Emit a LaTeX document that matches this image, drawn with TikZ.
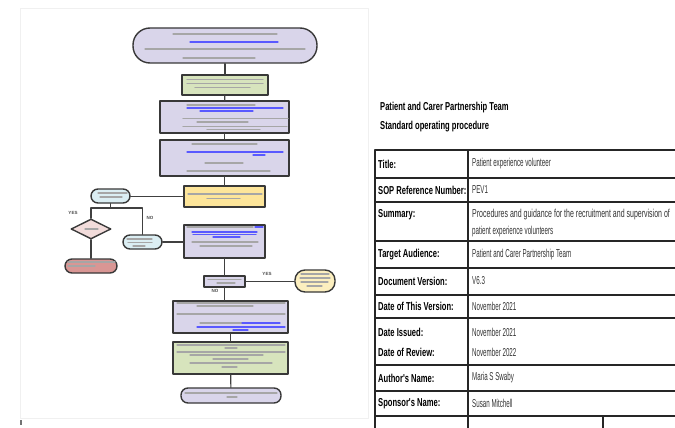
\documentclass[tikz,border=0pt]{standalone}
\usepackage{fontspec}
\setmainfont{Liberation Sans}
\newfontfamily\soplbl{Liberation Sans}[FakeStretch=0.66]
\newfontfamily\sopval{Liberation Sans}[FakeStretch=0.54]
\newfontfamily\sopwide{Liberation Sans}[FakeStretch=0.61]
\usepackage{xcolor}
\usepackage{tikz}
\usetikzlibrary{positioning,calc,shapes.geometric}

\definecolor{lavfill}{HTML}{D9D5EA}
\definecolor{greenfill}{HTML}{D7E4BD}
\definecolor{yellowfill}{HTML}{FDE59A}
\definecolor{bluefill}{HTML}{DBEEF3}
\definecolor{pinkfill}{HTML}{F2DCDB}
\definecolor{redfill}{HTML}{D99694}
\definecolor{creamfill}{HTML}{FCEFBF}

\begin{document}
\begin{tikzpicture}[
	x=1pt,y=-1pt,
	line cap=round,line join=round,
	flowline/.style={draw=black!75, line width=1.2pt},
	flowbox/.style={draw=black!78, line width=1.4pt, inner sep=0pt},
	lavbox/.style={flowbox, fill=lavfill},
	greenbox/.style={flowbox, fill=greenfill},
	yellowbox/.style={flowbox, fill=yellowfill},
	textline/.style={line width=1.1pt, black!35},
	linkline/.style={line width=1.1pt, blue!65},
	yesno/.style={font=\fontsize{4.5}{4.5}\selectfont\bfseries, text=black!70, inner sep=0pt},
	tablerule/.style={black!85, line width=1.6pt},
	lbl/.style={anchor=west, inner sep=0pt, font=\soplbl\bfseries\fontsize{11.5}{17}\selectfont},
	val/.style={anchor=west, inner sep=0pt, align=left, text=black!80, font=\sopval\fontsize{11.5}{17}\selectfont}
	]
	\useasboundingbox (0,0) rectangle (675,428);
	
	%----- page of the flowchart
	\draw[gray!12, line width=0.6pt] (20,8) rectangle (368,418);
	\fill[black!55] (19.5,420) rectangle (22,425);
	
	%----- flowchart boxes
	\node[lavbox, rounded corners=17pt, minimum width=184pt, minimum height=35pt] (start) at (225,45.5) {};
	\node[greenbox, minimum width=86pt, minimum height=20pt] (check) at (225,85) {};
	\node[lavbox, minimum width=129pt, minimum height=32pt] (apply) at (224.5,117) {};
	\node[lavbox, minimum width=129pt, minimum height=36pt] (interview) at (224.5,158) {};
	\node[yellowbox, minimum width=81pt, minimum height=21pt] (offer) at (224.5,196.5) {};
	\node[flowbox, fill=bluefill, rounded corners=7pt, minimum width=39pt, minimum height=14pt] (query) at (110.5,196) {};
	\node[flowbox, fill=pinkfill, diamond, aspect=2, minimum width=40pt, minimum height=20pt] (decide) at (91,229) {};
	\node[flowbox, fill=redfill, rounded corners=7pt, minimum width=52pt, minimum height=14pt] (stop) at (91,266) {};
	\node[flowbox, fill=bluefill, rounded corners=7pt, minimum width=39pt, minimum height=14pt] (accept) at (142.5,242) {};
	\node[lavbox, minimum width=81pt, minimum height=33pt] (checks) at (224.5,241.5) {};
	\node[lavbox, minimum width=41pt, minimum height=11pt] (issue) at (224.5,281.5) {};
	\node[flowbox, fill=creamfill, rounded corners=10pt, minimum width=40pt, minimum height=22pt] (refer) at (315,281) {};
	\node[lavbox, minimum width=115pt, minimum height=32pt] (induct) at (230.5,317) {};
	\node[greenbox, minimum width=115pt, minimum height=32pt] (placed) at (230.5,358) {};
	\node[lavbox, rounded corners=7pt, minimum width=100pt, minimum height=15pt] (review) at (231,395.5) {};
	
	%----- connectors
	\coordinate (split) at (110.5,208);
	\draw[flowline] (start) -- (check);
	\draw[flowline] (check) -- (apply);
	\draw[flowline] (apply) -- (interview);
	\draw[flowline] (interview) -- (offer);
	\draw[flowline] (offer.west) -- (query.east |- offer.west);
	\draw[flowline] (query) -- (split);
	\draw[flowline] (decide.north) |- (split) -| (accept.north);
	\draw[flowline] (decide) -- (stop);
	\draw[flowline] (accept) -- (checks.west |- accept);
	\draw[flowline] (checks) -- (issue);
	\draw[flowline] (issue.east) -- (refer.west |- issue.east);
	\draw[flowline] (issue.south) -- (issue.south |- induct.north);
	\draw[flowline] (induct) -- (placed);
	\draw[flowline] (placed) -- (review);
	
	\node[yesno] (yesL) at (73,213) {YES};
	\node[yesno] (noL) at (150,218) {NO};
	\node[yesno] (yesR) at (267,274) {YES};
	\node[yesno] (noR) at (215,291) {NO};
	
	%----- blurred text rows in the boxes
	\foreach \xa/\xb/\yy in {173/277/34, 145/305/49, 183/255/58,
		187/263/79.5, 187/263/83.5, 195/250/87.5,
		187/255/105, 183/288/118.5, 197/248/122, 183/287/126.5, 207/260/129.5,
		192/257/144, 205/243/163, 187/270/171,
		188/262/194, 207/240/198.5,
		98/127/193, 100/122/197, 85/98/229, 68/115/262, 68/95/266,
		127/152/239, 128/152/242.5, 133/145/246,
		187/253/227, 192/258/242, 200/252/246,
		208/241/279.5, 217/235/283,
		301/329/274, 300/330/278, 301/328/282, 307/322/286,
		177/285/303, 197/253/306, 177/285/314, 200/242/323,
		177/285/345, 225/237/348, 177/285/352, 190/263/355, 213/248/359, 190/272/363, 222/237/367,
		185/277/393, 227/237/397}{
		\draw[textline] (\xa,\yy) -- (\xb,\yy);
	}
	\foreach \xa/\xb/\yy in {190/278/42, 187/283/108, 200/253/111,
		187/283/152, 253/265/155, 255/263/227, 192/257/232, 193/256/234.5, 213/240/237,
		242/280/323, 197/285/327, 233/248/330}{
		\draw[linkline] (\xa,\yy) -- (\xb,\yy);
	}
	
	%----- SOP heading
	\node[lbl] (head1) at (380,108) {Patient and Carer Partnership Team};
	\node[lbl] (head2) at (380,127) {Standard operating procedure};
	
	%----- table rules
	\foreach \yy in {150,178,202,241,268,295,318,365,391,416}{
		\draw[tablerule] (375,\yy) -- (675,\yy);
	}
	\draw[tablerule] (375,150) -- (375,428);
	\draw[tablerule] (468,150) -- (468,428);
	\draw[tablerule] (603,416) -- (603,428);
	
	%----- table entries
	\node[lbl] (kTitle) at (378,164) {Title:};
	\node[val] (vTitle) at (472,164) {Patient experience volunteer};
	\node[lbl] (kRef) at (378,190) {SOP Reference Number:};
	\node[val] (vRef) at (472,190) {PEV1};
	\node[lbl] (kSum) at (378,215) {Summary:};
	\node[val] (vSum) at (472,223.5) {{\sopwide Procedures and guidance for the recruitment and supervision of}\\patient experience volunteers};
	\node[lbl] (kAud) at (378,255) {Target Audience:};
	\node[val] (vAud) at (472,255) {Patient and Carer Partnership Team};
	\node[lbl] (kVer) at (378,281) {Document Version:};
	\node[val] (vVer) at (472,281) {V6.3};
	\node[lbl] (kDate) at (378,306) {Date of This Version:};
	\node[val] (vDate) at (472,306) {November 2021};
	\node[lbl] (kIss) at (378,332) {Date Issued:};
	\node[val] (vIss) at (472,332) {November 2021};
	\node[lbl] (kRev) at (378,352) {Date of Review:};
	\node[val] (vRev) at (472,352) {November 2022};
	\node[lbl] (kAuth) at (378,378) {Author's Name:};
	\node[val] (vAuth) at (472,378) {Maria S Swaby};
	\node[lbl] (kSpon) at (378,403.5) {Sponsor's Name:};
	\node[val] (vSpon) at (472,403.5) {Susan Mitchell};
	
\end{tikzpicture}
\end{document}
